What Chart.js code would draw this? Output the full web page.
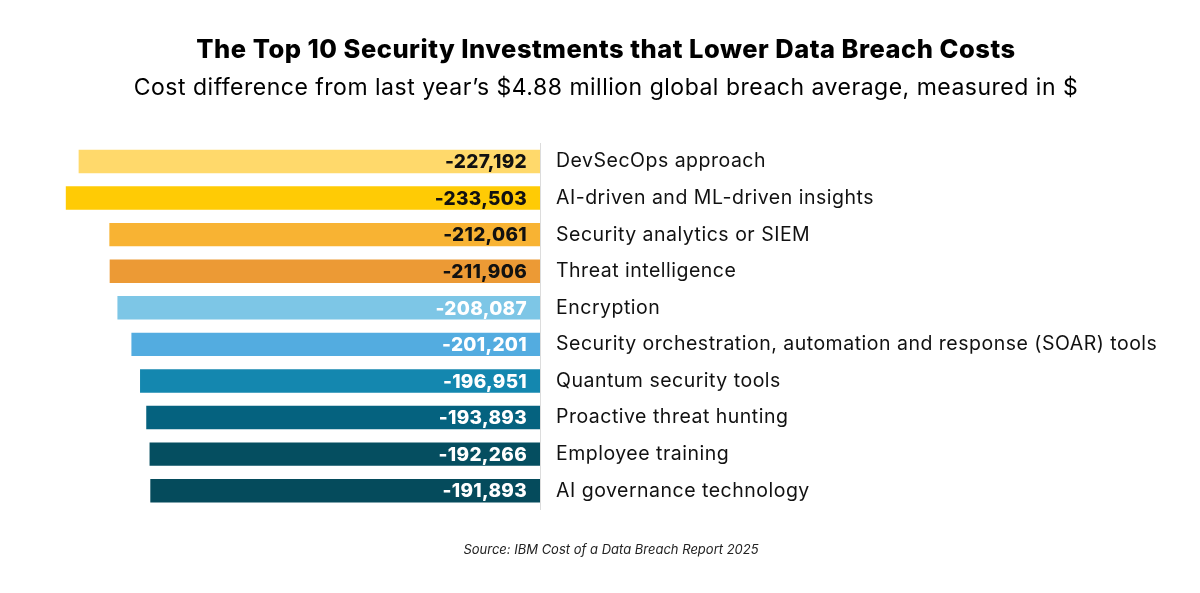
<!DOCTYPE html>
<html>
<head>
<meta charset="utf-8">
<script src="https://cdn.jsdelivr.net/npm/chart.js@4.4.1/dist/chart.umd.min.js"></script>
<style>
  html, body { margin: 0; padding: 0; background: #fff; }
  #wrap { width: 1200px; height: 593px; position: relative; }
</style>
</head>
<body>
<div id="wrap"><canvas id="myChart"></canvas></div>
<script>
// data
var categories = [
  'DevSecOps approach',
  'AI-driven and ML-driven insights',
  'Security analytics or SIEM',
  'Threat intelligence',
  'Encryption',
  'Security orchestration, automation and response (SOAR) tools',
  'Quantum security tools',
  'Proactive threat hunting',
  'Employee training',
  'AI governance technology'
];
var costDiff = [-227192, -233503, -212061, -211906, -208087, -201201, -196951, -193893, -192266, -191893];
var barColors = ['#FFD96B', '#FFCB05', '#F8B333', '#EC9A35', '#7DC6E6', '#53ACE0', '#1487AF', '#05627F', '#054E60', '#054B5C'];
var labelColors = ['#111', '#111', '#111', '#111', '#fff', '#fff', '#fff', '#fff', '#fff', '#fff'];

var FONT = 'Inter, "Open Sans", sans-serif';

// Poppins isn't installed, so widen the text a bit
var spacing = {
  id: 'spacing',
  beforeDraw: function (chart) { chart.ctx.letterSpacing = '0.5px'; }
};

// value labels at the inner end of each bar
var valueLabels = {
  id: 'valueLabels',
  afterDatasetsDraw: function (chart) {
    var ctx = chart.ctx;
    var meta = chart.getDatasetMeta(0);
    ctx.save();
    ctx.font = '800 19px ' + FONT;
    ctx.letterSpacing = '0.3px';
    ctx.textAlign = 'right';
    ctx.textBaseline = 'middle';
    meta.data.forEach(function (bar, i) {
      ctx.fillStyle = labelColors[i];
      ctx.fillText(costDiff[i].toLocaleString('en-US'), bar.base - 13, bar.y + 1);
    });
    ctx.restore();
  }
};

// source line under the chart
var sourceNote = {
  id: 'sourceNote',
  afterDraw: function (chart) {
    var ctx = chart.ctx;
    ctx.save();
    ctx.letterSpacing = '0px';
    ctx.font = 'italic 13px ' + FONT;
    ctx.fillStyle = '#222';
    ctx.textAlign = 'center';
    ctx.textBaseline = 'middle';
    ctx.fillText('Source: IBM Cost of a Data Breach Report 2025', 611, 550);
    ctx.restore();
  }
};

var ctx = document.getElementById('myChart').getContext('2d');
var myChart = new Chart(ctx, {
  type: 'bar',
  data: {
    labels: categories,
    datasets: [{
      data: costDiff,
      backgroundColor: barColors,
      borderWidth: 0,
      barPercentage: 0.64,
      categoryPercentage: 1
    }]
  },
  options: {
    indexAxis: 'y',
    responsive: true,
    maintainAspectRatio: false,
    animation: false,
    layout: { padding: { left: 12, right: 0, top: 0, bottom: 84 } },
    plugins: {
      legend: { display: false },
      tooltip: { enabled: false },
      title: {
        display: true,
        text: 'The Top 10 Security Investments that Lower Data Breach Costs',
        color: '#000',
        font: { family: FONT, size: 25.5, weight: '800', lineHeight: 1.2 },
        padding: { top: 35, bottom: 9 }
      },
      subtitle: {
        display: true,
        text: 'Cost difference from last year\u2019s $4.88 million global breach average, measured in $',
        color: '#000',
        font: { family: FONT, size: 23, lineHeight: 1.2 },
        padding: { top: 0, bottom: 41 }
      }
    },
    scales: {
      x: {
        display: false,
        min: -260000,
        max: 0
      },
      y: {
        position: 'right',
        grid: { display: false, drawTicks: false },
        border: { display: true, color: '#dcdcdc', width: 1 },
        ticks: {
          color: '#111',
          padding: 16,
          font: { family: FONT, size: 19.5 }
        },
        afterFit: function (scale) { scale.width = 660; }
      }
    }
  },
  plugins: [spacing, valueLabels, sourceNote]
});
</script>
</body>
</html>
